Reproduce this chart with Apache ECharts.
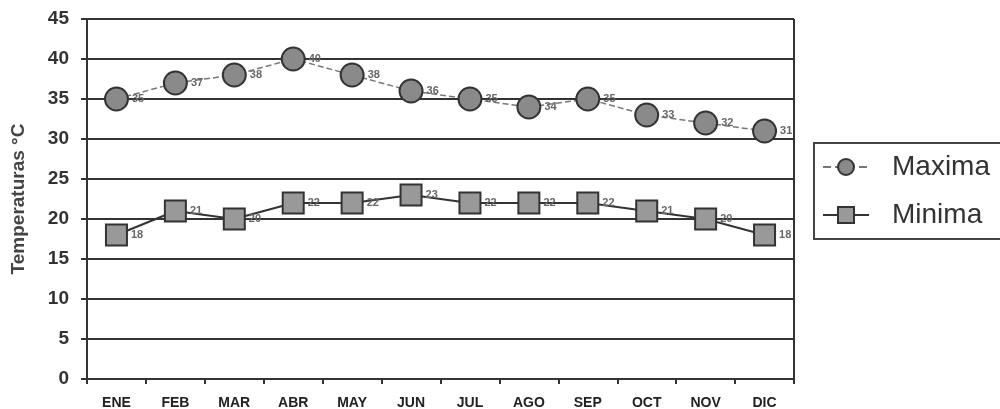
<!DOCTYPE html>
<html><head><meta charset="utf-8">
<script src="https://cdn.jsdelivr.net/npm/echarts@6/dist/echarts.min.js"></script>
<style>html,body{margin:0;padding:0;background:#fff}#c{width:1000px;height:409px}</style>
</head><body><div id="c"></div>
<script>
const categories = ['ENE','FEB','MAR','ABR','MAY','JUN','JUL','AGO','SEP','OCT','NOV','DIC'];
const maxima = [35,37,38,40,38,36,35,34,35,33,32,31];
const minima = [18,21,20,22,22,23,22,22,22,21,20,18];
const yTicks = [0,5,10,15,20,25,30,35,40,45];

const chart = echarts.init(document.getElementById('c'));
const lbl = {show:true, position:'right', distance:3, fontSize:11, fontWeight:'bold', color:'#666', fontFamily:'Liberation Sans, Arial'};
chart.setOption({
  backgroundColor:'#fff',
  animation:false,
  grid:{left:87, right:206, top:19, bottom:30, containLabel:false, outerBoundsMode:'none'},
  legend:{
    orient:'vertical', left:814, top:143, width:200,
    padding:[10,40,10,8], itemGap:20,
    borderColor:'#444', borderWidth:2,
    itemWidth:46, itemHeight:20,
    textStyle:{fontSize:28, color:'#333', fontFamily:'Liberation Sans, Arial', padding:[0,0,0,18]},
    data:['Maxima','Minima']
  },
  xAxis:{
    type:'category', data:categories, boundaryGap:true,
    axisLine:{lineStyle:{color:'#333', width:2}},
    axisTick:{show:true, length:5, lineStyle:{color:'#333', width:2}},
    axisLabel:{fontSize:14, fontWeight:'bold', color:'#222', margin:17, fontFamily:'Liberation Sans, Arial'}
  },
  yAxis:{
    type:'value', min:0, max:45, interval:5,
    name:'Temperaturas °C', nameLocation:'middle', nameGap:59, nameRotate:90,
    nameTextStyle:{fontSize:19, fontWeight:'bold', color:'#444', fontFamily:'Liberation Sans, Arial'},
    axisLine:{show:true, lineStyle:{color:'#333', width:2}},
    axisTick:{show:true, length:6, lineStyle:{color:'#333', width:2}},
    axisLabel:{fontSize:19, fontWeight:'bold', color:'#333', margin:18, fontFamily:'Liberation Sans, Arial',
      formatter:v=>yTicks.includes(v)?String(v):''},
    splitLine:{lineStyle:{color:'#333', width:2}}
  },
  series:[
    {name:'Maxima', type:'line', data:maxima, symbol:'circle', symbolSize:23,
     lineStyle:{color:'#777', width:1.5, type:'dashed'},
     itemStyle:{color:'#8a8a8a', borderColor:'#333', borderWidth:2},
     label:lbl},
    {name:'Minima', type:'line', data:minima, symbol:'rect', symbolSize:21,
     lineStyle:{color:'#333', width:2},
     itemStyle:{color:'#999', borderColor:'#333', borderWidth:2},
     label:lbl}
  ],
  graphic:[{type:'line', shape:{x1:794, y1:19, x2:794, y2:379}, style:{stroke:'#333', lineWidth:2}}]
});
</script></body></html>
